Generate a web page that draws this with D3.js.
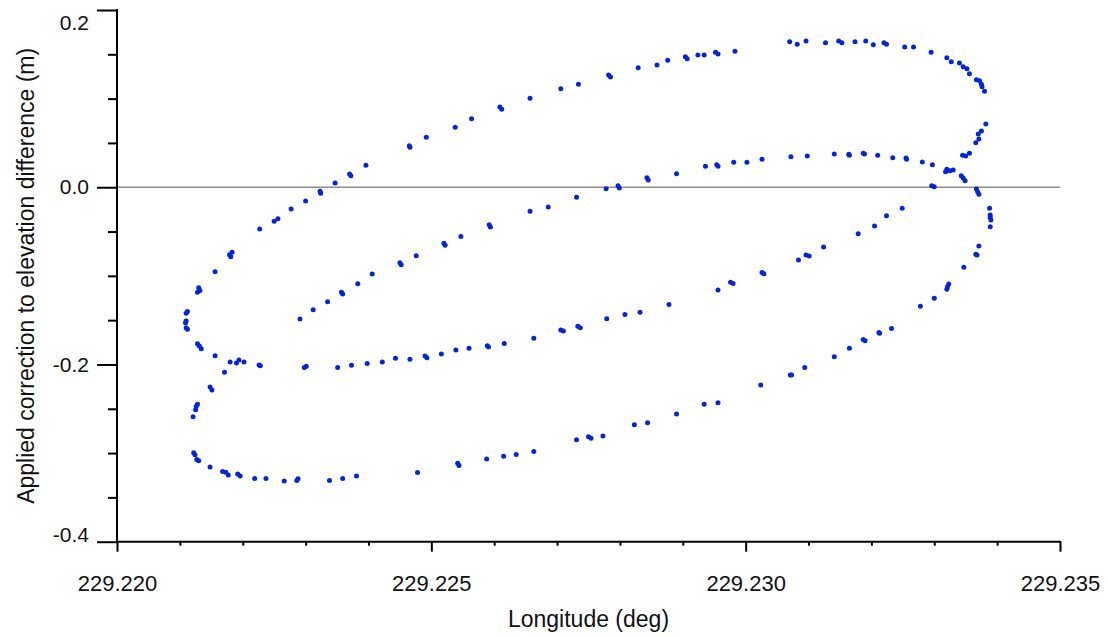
<!DOCTYPE html>
<html>
<head>
<meta charset="utf-8">
<script src="https://cdn.jsdelivr.net/npm/d3@7"></script>
<style>
  html, body { margin: 0; padding: 0; background: #fff; }
  svg { display: block; font-family: "Liberation Sans", Arial, sans-serif; }
</style>
</head>
<body>
<svg id="chart" width="1108" height="637"></svg>
<script>
// ---- data (longitude in deg, applied correction in m) ----
const longitude = [
229.22291,229.22312,229.22335,229.22357,229.22359,229.22383,229.22406,229.22450,229.22452,229.22476,
229.22520,229.22522,229.22547,229.22592,229.22594,229.22657,229.22686,229.22731,229.22778,229.22797,
229.22799,229.22843,229.22845,229.22890,229.22936,229.22954,229.22956,229.22981,229.23002,229.23026,
229.23072,229.23098,229.23141,229.23164,229.23165,229.23187,229.23189,229.23210,229.23234,229.23255,
229.23256,229.23281,229.23297,229.23318,229.23320,229.23325,229.23330,229.23343,229.23346,229.23349,
229.23367,229.23369,229.23371,229.23388,229.23389,229.23389,229.23390,229.23389,229.23371,229.23366,
229.23368,229.23347,229.23323,229.23321,229.23320,229.23300,229.23278,229.23232,229.23212,229.23213,
229.23187,229.23190,229.23165,229.23141,229.23094,229.23071,229.23073,229.23024,229.22956,229.22934,
229.22890,229.22844,229.22823,229.22773,229.22750,229.22754,229.22731,229.22663,229.22635,229.22615,
229.22588,229.22542,229.22544,229.22478,229.22381,229.22359,229.22338,229.22288,229.22286,229.22266,
229.22237,229.22219,229.22196,229.22192,229.22177,229.22173,229.22168,229.22148,229.22130,229.22127,
229.22124,229.22122,229.22121,229.22125,229.22126,229.22128,229.22148,229.22151,229.22171,229.22180,
229.22156,229.22134,229.22131,229.22128,229.22112,229.22110,229.22109,229.22110,229.22110,229.22112,
229.22128,229.22132,229.22130,229.22156,229.22181,229.22179,229.22183,229.22227,229.22250,229.22256,
229.22277,229.22300,229.22323,229.22324,229.22347,229.22370,229.22372,229.22396,229.22465,229.22466,
229.22492,229.22538,229.22564,229.22609,229.22612,229.22657,229.22706,229.22734,229.22782,229.22785,
229.22829,229.22859,229.22876,229.22904,229.22907,229.22924,229.22934,229.22952,229.22956,229.22983,
229.23070,229.23082,229.23096,229.23127,229.23148,229.23153,229.23174,229.23191,229.23203,229.23220,
229.23224,229.23253,229.23267,229.23295,229.23320,229.23327,229.23340,229.23346,229.23352,229.23356,
229.23367,229.23372,229.23375,229.23376,229.23380,229.23382,229.23375,229.23370,229.23371,229.23366,
229.23356,229.23350,229.23345,229.23296,229.23300,229.23249,229.23224,229.23205,229.23179,229.23124,
229.23096,229.23101,229.23084,229.23026,229.23029,229.22976,229.22980,229.22956,229.22878,229.22832,
229.22808,229.22779,229.22733,229.22737,229.22706,229.22710,229.22663,229.22616,229.22589,229.22591,
229.22560,229.22539,229.22516,229.22493,229.22490,229.22466,229.22443,229.22422,229.22398,229.22373,
229.22351,229.22301,229.22298,229.22228,229.22226,229.22202,229.22194,229.22190
];
const correction = [
-0.1488,-0.1383,-0.1292,-0.1186,-0.1205,-0.1089,-0.0980,-0.0852,-0.0875,-0.0773,
-0.0633,-0.0656,-0.0556,-0.0423,-0.0449,-0.0272,-0.0223,-0.0114,-0.0017,0.0017,
-0.0009,0.0107,0.0081,0.0152,0.0236,0.0254,0.0236,0.0281,0.0281,0.0315,
0.0344,0.0352,0.0375,0.0371,0.0360,0.0383,0.0375,0.0360,0.0333,0.0330,
0.0315,0.0284,0.0254,0.0175,0.0202,0.0186,0.0194,0.0130,0.0104,0.0073,
-0.0020,-0.0051,-0.0080,-0.0238,-0.0314,-0.0340,-0.0370,-0.0446,-0.0664,-0.0757,
-0.0765,-0.0904,-0.1093,-0.1123,-0.1152,-0.1254,-0.1344,-0.1593,-0.1638,-0.1649,
-0.1717,-0.1733,-0.1818,-0.1913,-0.2033,-0.2120,-0.2120,-0.2233,-0.2432,-0.2450,
-0.2560,-0.2658,-0.2681,-0.2808,-0.2816,-0.2834,-0.2850,-0.2981,-0.3015,-0.3037,
-0.3068,-0.3116,-0.3139,-0.3218,-0.3260,-0.3286,-0.3308,-0.3290,-0.3308,-0.3316,
-0.3286,-0.3286,-0.3260,-0.3237,-0.3248,-0.3215,-0.3207,-0.3158,-0.3087,-0.3071,
-0.3019,-0.2997,-0.2590,-0.2511,-0.2473,-0.2450,-0.2255,-0.2289,-0.2089,-0.1973,
-0.1902,-0.1823,-0.1792,-0.1766,-0.1604,-0.1586,-0.1529,-0.1510,-0.1423,-0.1401,
-0.1186,-0.1164,-0.1134,-0.0954,-0.0784,-0.0762,-0.0735,-0.0472,-0.0385,-0.0356,
-0.0246,-0.0156,-0.0046,-0.0069,0.0047,0.0149,0.0130,0.0247,0.0468,0.0450,
0.0563,0.0676,0.0773,0.0905,0.0879,0.1003,0.1112,0.1161,0.1266,0.1244,
0.1349,0.1379,0.1432,0.1473,0.1450,0.1492,0.1492,0.1523,0.1503,0.1534,
0.1642,0.1613,0.1650,0.1631,0.1650,0.1631,0.1642,0.1650,0.1608,0.1631,
0.1613,0.1582,0.1582,0.1523,0.1462,0.1417,0.1402,0.1360,0.1338,0.1281,
0.1213,0.1202,0.1161,0.1134,0.1082,0.0713,0.0634,0.0600,0.0544,0.0502,
0.0383,0.0352,0.0360,0.0017,0.0006,-0.0238,-0.0322,-0.0438,-0.0525,-0.0675,
-0.0765,-0.0777,-0.0822,-0.0961,-0.0976,-0.1073,-0.1085,-0.1160,-0.1322,-0.1412,
-0.1435,-0.1484,-0.1570,-0.1586,-0.1612,-0.1623,-0.1705,-0.1762,-0.1789,-0.1804,
-0.1818,-0.1838,-0.1883,-0.1924,-0.1905,-0.1942,-0.1931,-0.1973,-0.1988,-0.2010,
-0.2033,-0.2021,-0.2033,-0.2015,-0.2007,-0.1973,-0.1950,-0.1984
];
const xMajorTicks = [229.220, 229.225, 229.230, 229.235];
const xMinorTicks = [229.221,229.222,229.223,229.224,229.226,229.227,229.228,229.229,229.231,229.232,229.233,229.234];
const yMajorTicks = [-0.4, -0.2, 0.0, 0.2];
const yMinorTicks = [-0.35,-0.3,-0.25,-0.15,-0.1,-0.05,0.05,0.1,0.15];
const xTitle = "Longitude (deg)";
const yTitle = "Applied correction to elevation difference (m)";

// ---- drawing ----
const svg = d3.select("#chart");
const mLeft = 117, mRight = 1060, mTop = 10, mBottom = 541.7;
const x = d3.scaleLinear().domain([229.220, 229.235]).range([mLeft, mRight]);
const y = d3.scaleLinear().domain([-0.4, 0.2]).range([mBottom, mTop]);

// zero reference line
svg.append("line")
  .attr("x1", x(229.220)).attr("x2", x(229.235))
  .attr("y1", y(0)).attr("y2", y(0))
  .attr("stroke", "#8c8c8c").attr("stroke-width", 1.6);

// points
const pts = longitude.map((lon, i) => ({lon, v: correction[i]}));
svg.append("g").selectAll("circle").data(pts).join("circle")
  .attr("cx", d => x(d.lon)).attr("cy", d => y(d.v))
  .attr("r", 2.5).attr("fill", "#0627cf");

// axes
function styleAxis(g) {
  g.selectAll(".domain").remove();
  g.selectAll(".tick line").attr("stroke", "#000").attr("stroke-width", 2);
}
svg.append("g").attr("transform", `translate(${mLeft},0)`)
  .call(d3.axisLeft(y).tickValues(yMinorTicks).tickSize(9).tickFormat(""))
  .call(styleAxis);
svg.append("g").attr("transform", `translate(${mLeft},0)`)
  .call(d3.axisLeft(y).tickValues(yMajorTicks).tickSize(20).tickPadding(8).tickFormat(d => d.toFixed(1)))
  .call(styleAxis)
  .call(g => g.selectAll("text").attr("font-size", 21).attr("fill", "#111")
     .attr("font-family", "'Liberation Sans', Arial, sans-serif")
     .attr("y", d => d === 0.2 ? 13 : (d === -0.4 ? -7 : 0)));
svg.append("g").attr("transform", `translate(0,${mBottom})`)
  .call(d3.axisBottom(x).tickValues(xMinorTicks).tickSize(4).tickFormat(""))
  .call(styleAxis);
svg.append("g").attr("transform", `translate(0,${mBottom})`)
  .call(d3.axisBottom(x).tickValues(xMajorTicks).tickSize(10).tickPadding(24).tickFormat(d => d.toFixed(3)))
  .call(styleAxis)
  .call(g => g.selectAll("text").attr("font-size", 22).attr("fill", "#111")
     .attr("font-family", "'Liberation Sans', Arial, sans-serif"));

// axis lines
svg.append("line").attr("x1", mLeft).attr("x2", mLeft).attr("y1", mTop).attr("y2", mBottom)
  .attr("stroke", "#000").attr("stroke-width", 2).attr("stroke-linecap", "square");
svg.append("line").attr("x1", mLeft).attr("x2", mRight).attr("y1", mBottom).attr("y2", mBottom)
  .attr("stroke", "#000").attr("stroke-width", 2).attr("stroke-linecap", "square");

// titles
svg.append("text")
  .attr("x", (mLeft + mRight) / 2).attr("y", 627)
  .attr("text-anchor", "middle").attr("font-size", 23).attr("fill", "#111")
  .text(xTitle);
svg.append("text")
  .attr("transform", `translate(34,${(mTop + mBottom) / 2}) rotate(-90)`)
  .attr("text-anchor", "middle").attr("font-size", 23).attr("fill", "#111")
  .text(yTitle);
</script>
</body>
</html>
